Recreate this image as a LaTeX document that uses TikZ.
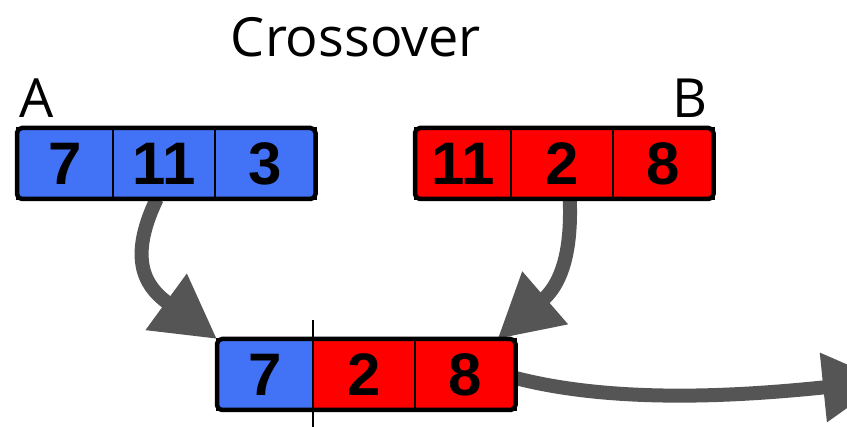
\documentclass[tikz,border=0pt]{standalone}
\usepackage{fontspec}
\setmainfont{Open Sans}
\newfontfamily\numfont{Liberation Sans}
\usetikzlibrary{arrows.meta,fit}
\pgfdeclarelayer{background}
\pgfsetlayers{background,main}
\definecolor{cblue}{RGB}{66,114,245}
\definecolor{cred}{RGB}{255,0,0}
\definecolor{cgray}{RGB}{85,85,85}
\begin{document}
\begin{tikzpicture}[x=1pt,y=-1pt,
  cell/.style={draw=black,line width=2pt,minimum height=71pt,inner sep=0pt,outer sep=0pt,
    anchor=west,font=\numfont\bfseries\fontsize{60}{62}\selectfont},
  wa/.style={minimum width=95.5pt},
  wb/.style={minimum width=102.5pt},
  wc/.style={minimum width=100.5pt},
  outer/.style={draw=black,line width=4.5pt,rounded corners=5pt,inner sep=0pt,outer sep=0pt},
  conn/.style={draw=cgray,line width=14pt,-{Triangle[length=63pt,width=66pt]}},
  lbl/.style={font=\fontsize{54}{60}\selectfont,inner sep=0pt},
  cutline/.style={draw=black,line width=2pt}]
\useasboundingbox (0,0) rectangle (847,427);
% parent A
\node[cell,wa,fill=cblue] (a1) at (17,163.5) {7};
\node[cell,wb,fill=cblue] (a2) at (a1.east) {11};
\node[cell,wc,fill=cblue] (a3) at (a2.east) {3};
\node[outer,fit=(a1)(a3)] (A) {};
% parent B
\node[cell,wa,fill=cred] (b1) at (415,163.5) {11};
\node[cell,wb,fill=cred] (b2) at (b1.east) {2};
\node[cell,wc,fill=cred] (b3) at (b2.east) {8};
\node[outer,fit=(b1)(b3)] (B) {};
% child
\node[cell,wa,fill=cblue] (c1) at (217,374.5) {7};
\node[cell,wb,fill=cred] (c2) at (c1.east) {2};
\node[cell,wc,fill=cred] (c3) at (c2.east) {8};
\node[outer,fit=(c1)(c3)] (C) {};
% cut line
\draw[cutline] ([yshift=19pt]c1.north east) -- ([yshift=-22pt]c1.south east);
% labels
\node[lbl,anchor=base] (title) at (356,57) {Crossover};
\node[lbl,anchor=base west] (la) at (19,118) {A};
\node[lbl,anchor=base east] (lb) at (708,118) {B};
% connectors
\coordinate (out) at (886,381);
\begin{pgfonlayer}{background}
\fill[white] (0,0) rectangle (847,427);
\draw[conn] ([xshift=-7pt]a2.south) .. controls (125,265) and (150,290) .. (c1.north west);
\draw[conn] ([xshift=8pt]b2.south) .. controls (572,255) and (560,285) .. ([xshift=-18pt]c3.north east);
\draw[conn] ([yshift=-3.5pt]c3.east) .. controls (620,405) and (750,395) .. (out);
\end{pgfonlayer}
\end{tikzpicture}
\end{document}
